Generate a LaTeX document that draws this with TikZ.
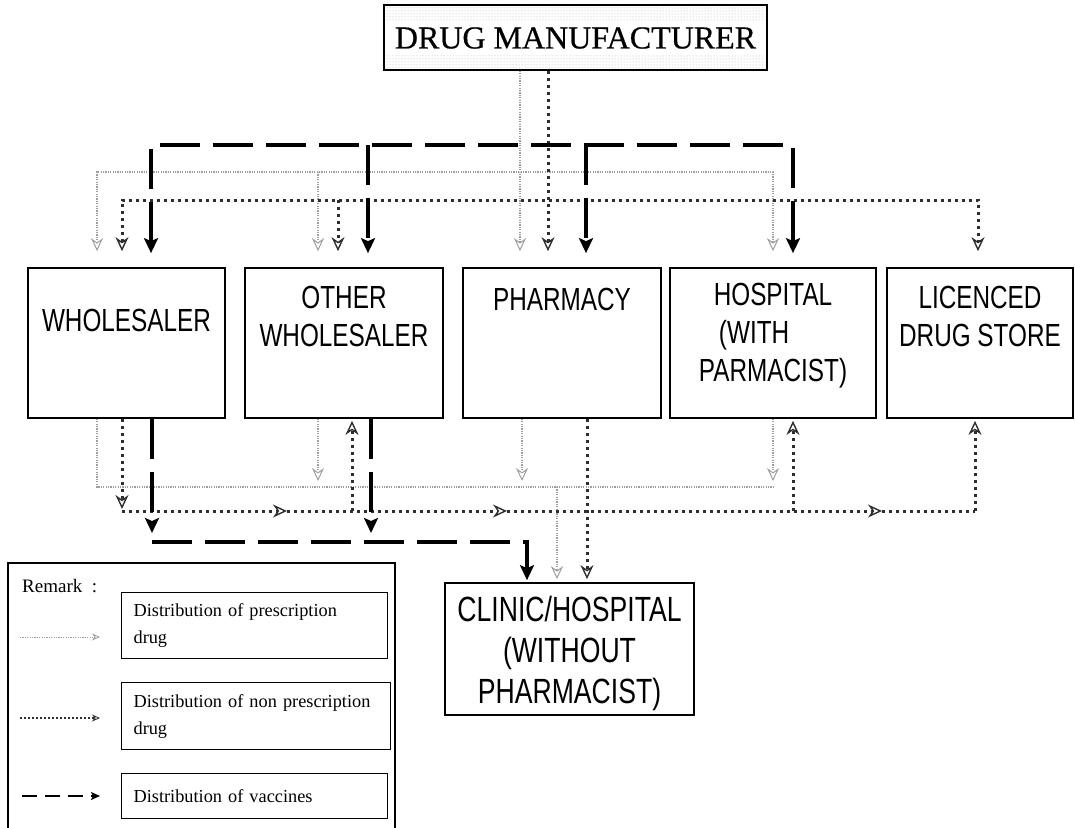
\documentclass[tikz,border=0pt]{standalone}
\usepackage{fontspec}
\setmainfont{Liberation Serif}
\newfontfamily\boxfont[FakeStretch=0.76]{Liberation Sans}
\newfontfamily\manfont[FakeBold=0.6]{Liberation Serif}
\usetikzlibrary{arrows.meta,patterns}

\begin{document}
\begin{tikzpicture}[x=1pt,y=-1pt,
  box/.style={draw=black, line width=1.7pt, inner sep=0pt},
  lbl/.style={font=\boxfont\fontsize{32}{38}\selectfont, align=center, inner sep=0pt},
  keytext/.style={draw=black, line width=1.2pt, font=\fontsize{18.3}{27}\selectfont,
    align=left, text width=242pt, inner xsep=12pt, inner ysep=0pt, anchor=north west},
  presc/.style={draw=black!38, line width=1.3pt, dash pattern=on 1.2pt off 1.2pt},
  nonpresc/.style={draw=black!82, line width=3pt, dash pattern=on 3pt off 4pt},
  vacc/.style={draw=black, line width=3.2pt, dash pattern=on 40pt off 13pt},
  ptip/.style={-{Stealth[open, length=13pt, width=12pt, line width=1pt]}},
  ptips/.style={{Stealth[open, length=13pt, width=12pt, line width=1pt]}-{Stealth[open, length=13pt, width=12pt, line width=1pt]}},
  ntip/.style={-{Stealth[open, length=14pt, width=13pt, line width=1.4pt]}},
  ntips/.style={{Stealth[open, length=14pt, width=13pt, line width=1.4pt]}-{Stealth[open, length=14pt, width=13pt, line width=1.4pt]}},
  vtip/.style={-{Stealth[length=15pt, width=14pt, inset=3pt]}},
  vtips/.style={{Stealth[length=15pt, width=14pt, inset=3pt]}-{Stealth[length=15pt, width=14pt, inset=3pt]}},
]
\useasboundingbox (0,0) rectangle (1075,827);

% ---------- manufacturer ----------
\fill[pattern=dots, pattern color=black!30] (386,7) rectangle (765,21);
\fill[pattern=dots, pattern color=black!30] (386,54) rectangle (765,68);
\node[box, minimum width=383pt, minimum height=65pt] (man) at (575.5,37.5) {};
\node[font=\manfont\fontsize{32}{38}\selectfont, inner sep=0pt] (manT) at (575.5,38) {DRUG MANUFACTURER};

% ---------- middle row ----------
\node[box, minimum width=197pt, minimum height=150pt] (whole)  at (126.5,343) {};
\node[box, minimum width=198pt, minimum height=150pt] (other)  at (344,343) {};
\node[box, minimum width=198pt, minimum height=150pt] (pharm)  at (562,343) {};
\node[box, minimum width=206pt, minimum height=150pt] (hosp)   at (773,343) {};
\node[box, minimum width=186pt, minimum height=150pt] (lic)    at (980,343) {};

\node[lbl] (wholeT) at (126.5,320) {WHOLESALER};
\node[lbl] (otherT) at (344,316) {OTHER\\WHOLESALER};
\node[lbl] (pharmT) at (562,299) {PHARMACY};
\node[lbl] (hospT)  at (773,336) {HOSPITAL\\(WITH\hphantom{(WI}\\PARMACIST)};
\node[lbl] (licT)   at (980,316) {LICENCED\\DRUG STORE};

% ---------- clinic ----------
\node[box, minimum width=249pt, minimum height=132pt] (clinic) at (569.5,649) {};
\node[lbl, font=\boxfont\fontsize{35}{41}\selectfont] (clinicT) at (569.5,653) {CLINIC/HOSPITAL\\(WITHOUT\\PHARMACIST)};

% ---------- upper distribution lines ----------
\coordinate (pW) at (97,172);  \coordinate (pO) at (318,172);
\coordinate (pP) at (520,172); \coordinate (pH) at (773,172);
\coordinate (nW) at (122,200); \coordinate (nO) at (338,200);
\coordinate (nP) at (548,200); \coordinate (nL) at (978,200);
\coordinate (vW) at (151,145); \coordinate (vO) at (368,145);
\coordinate (vP) at (586,145); \coordinate (vH) at (793,145);

% prescription drug
\draw[presc, ptips, shorten <=16pt, shorten >=16pt]
  (pW |- whole.north) -- (pW) -- (pH) -- (pH |- hosp.north);
\draw[presc, ptip, shorten >=16pt] (pO) -- (pO |- other.north);
\draw[presc, ptip, shorten >=16pt] (man.south -| pP) -- (pP |- pharm.north);

% non prescription drug
\draw[nonpresc, ntips, shorten <=16pt, shorten >=16pt]
  (nW |- whole.north) -- (nW) -- (nL) -- (nL |- lic.north);
\draw[nonpresc, ntip, shorten >=16pt] (nO) -- (nO |- other.north);
\draw[nonpresc, ntip, shorten >=16pt] (man.south -| nP) -- (nP |- pharm.north);

% vaccines
\draw[vacc, vtips, shorten <=14pt, shorten >=14pt]
  (vW |- whole.north) -- (vW) -- (vH) -- (vH |- hosp.north);
\draw[vacc, vtip, shorten >=14pt] (vO) -- (vO |- other.north);
\draw[vacc, vtip, shorten >=14pt] (vP) -- (vP |- pharm.north);

% ---------- lower distribution lines ----------
\coordinate (bpW) at (97,487);  \coordinate (bpO) at (318,487);
\coordinate (bpP) at (522,487); \coordinate (bpH) at (773,487);
\coordinate (bpC) at (557,487);
\coordinate (bnW) at (122,511); \coordinate (bnO) at (352,511);
\coordinate (bnP) at (587,418); \coordinate (bnH) at (793,511);
\coordinate (bnL) at (975,511);
\coordinate (bn1) at (287,511); \coordinate (bn2) at (507,511);
\coordinate (bn3) at (882,511);
\coordinate (bvW) at (152,542); \coordinate (bvO) at (371,542);
\coordinate (bvC) at (527,542);

% prescription drug
\draw[presc] (whole.south -| bpW) -- (bpW) -- (bpH);
\draw[presc, ptip, shorten >=6pt] (other.south -| bpO) -- (bpO);
\draw[presc, ptip, shorten >=6pt] (pharm.south -| bpP) -- (bpP);
\draw[presc, ptip, shorten >=6pt] (hosp.south -| bpH) -- (bpH);
\draw[presc, ptip, shorten >=3pt] (bpC) -- (bpC |- clinic.north);

% non prescription drug
\draw[nonpresc, ntip, shorten >=2pt] (whole.south -| bnW) -- (bnW);
\draw[nonpresc, ntip] (bnW) -- (bn1);
\draw[nonpresc, ntip] (bn1) -- (bn2);
\draw[nonpresc, ntip] (bn2) -- (bn3);
\draw[nonpresc] (bn3) -- (bnL);
\draw[nonpresc, ntip, shorten >=2pt] (bnO) -- (bnO |- other.south);
\draw[nonpresc, ntip, shorten >=2pt] (bnH) -- (bnH |- hosp.south);
\draw[nonpresc, ntip, shorten >=2pt] (bnL) -- (bnL |- lic.south);
\draw[nonpresc, ntip, shorten >=3pt] (pharm.south -| bnP) -- (bnP |- clinic.north);

% vaccines
\draw[vacc, vtip, shorten >=9pt] (whole.south -| bvW) -- (bvW);
\draw[vacc, vtip, shorten >=9pt] (other.south -| bvO) -- (bvO);
\draw[vacc, vtip, shorten >=2pt] (bvW) -- (bvC) -- (bvC |- clinic.north);

% ---------- key ----------
\draw[line width=1.2pt] (8,840) -- (8,563) -- (395,563) -- (395,840);
\node[anchor=west, inner sep=0pt, font=\fontsize{19}{24}\selectfont] (remark) at (22,586) {Remark\ \ :};

\node[keytext, minimum height=66pt] (key1) at (121,592) {Distribution of prescription\\drug};
\node[keytext, minimum height=67pt, text width=245pt] (key2) at (121,682) {Distribution of non prescription\\drug};
\node[keytext, minimum height=45pt] (key3) at (121,773) {Distribution of vaccines};

\coordinate (k1a) at (20,637); \coordinate (k1b) at (100,637);
\coordinate (k2a) at (20,718); \coordinate (k2b) at (100,718);
\coordinate (k3a) at (22,796); \coordinate (k3b) at (100,796);
\draw[presc, line width=1pt, -{Stealth[open, length=8pt, width=7pt, line width=0.8pt]}] (k1a) -- (k1b);
\draw[nonpresc, line width=1.5pt, dash pattern=on 1.5pt off 2.5pt, -{Stealth[open, length=8pt, width=7pt, line width=0.8pt]}] (k2a) -- (k2b);
\draw[vacc, line width=1.8pt, dash pattern=on 15pt off 8pt, -{Stealth[length=9pt, width=8pt, inset=2pt]}] (k3a) -- (k3b);
\end{tikzpicture}
\end{document}
